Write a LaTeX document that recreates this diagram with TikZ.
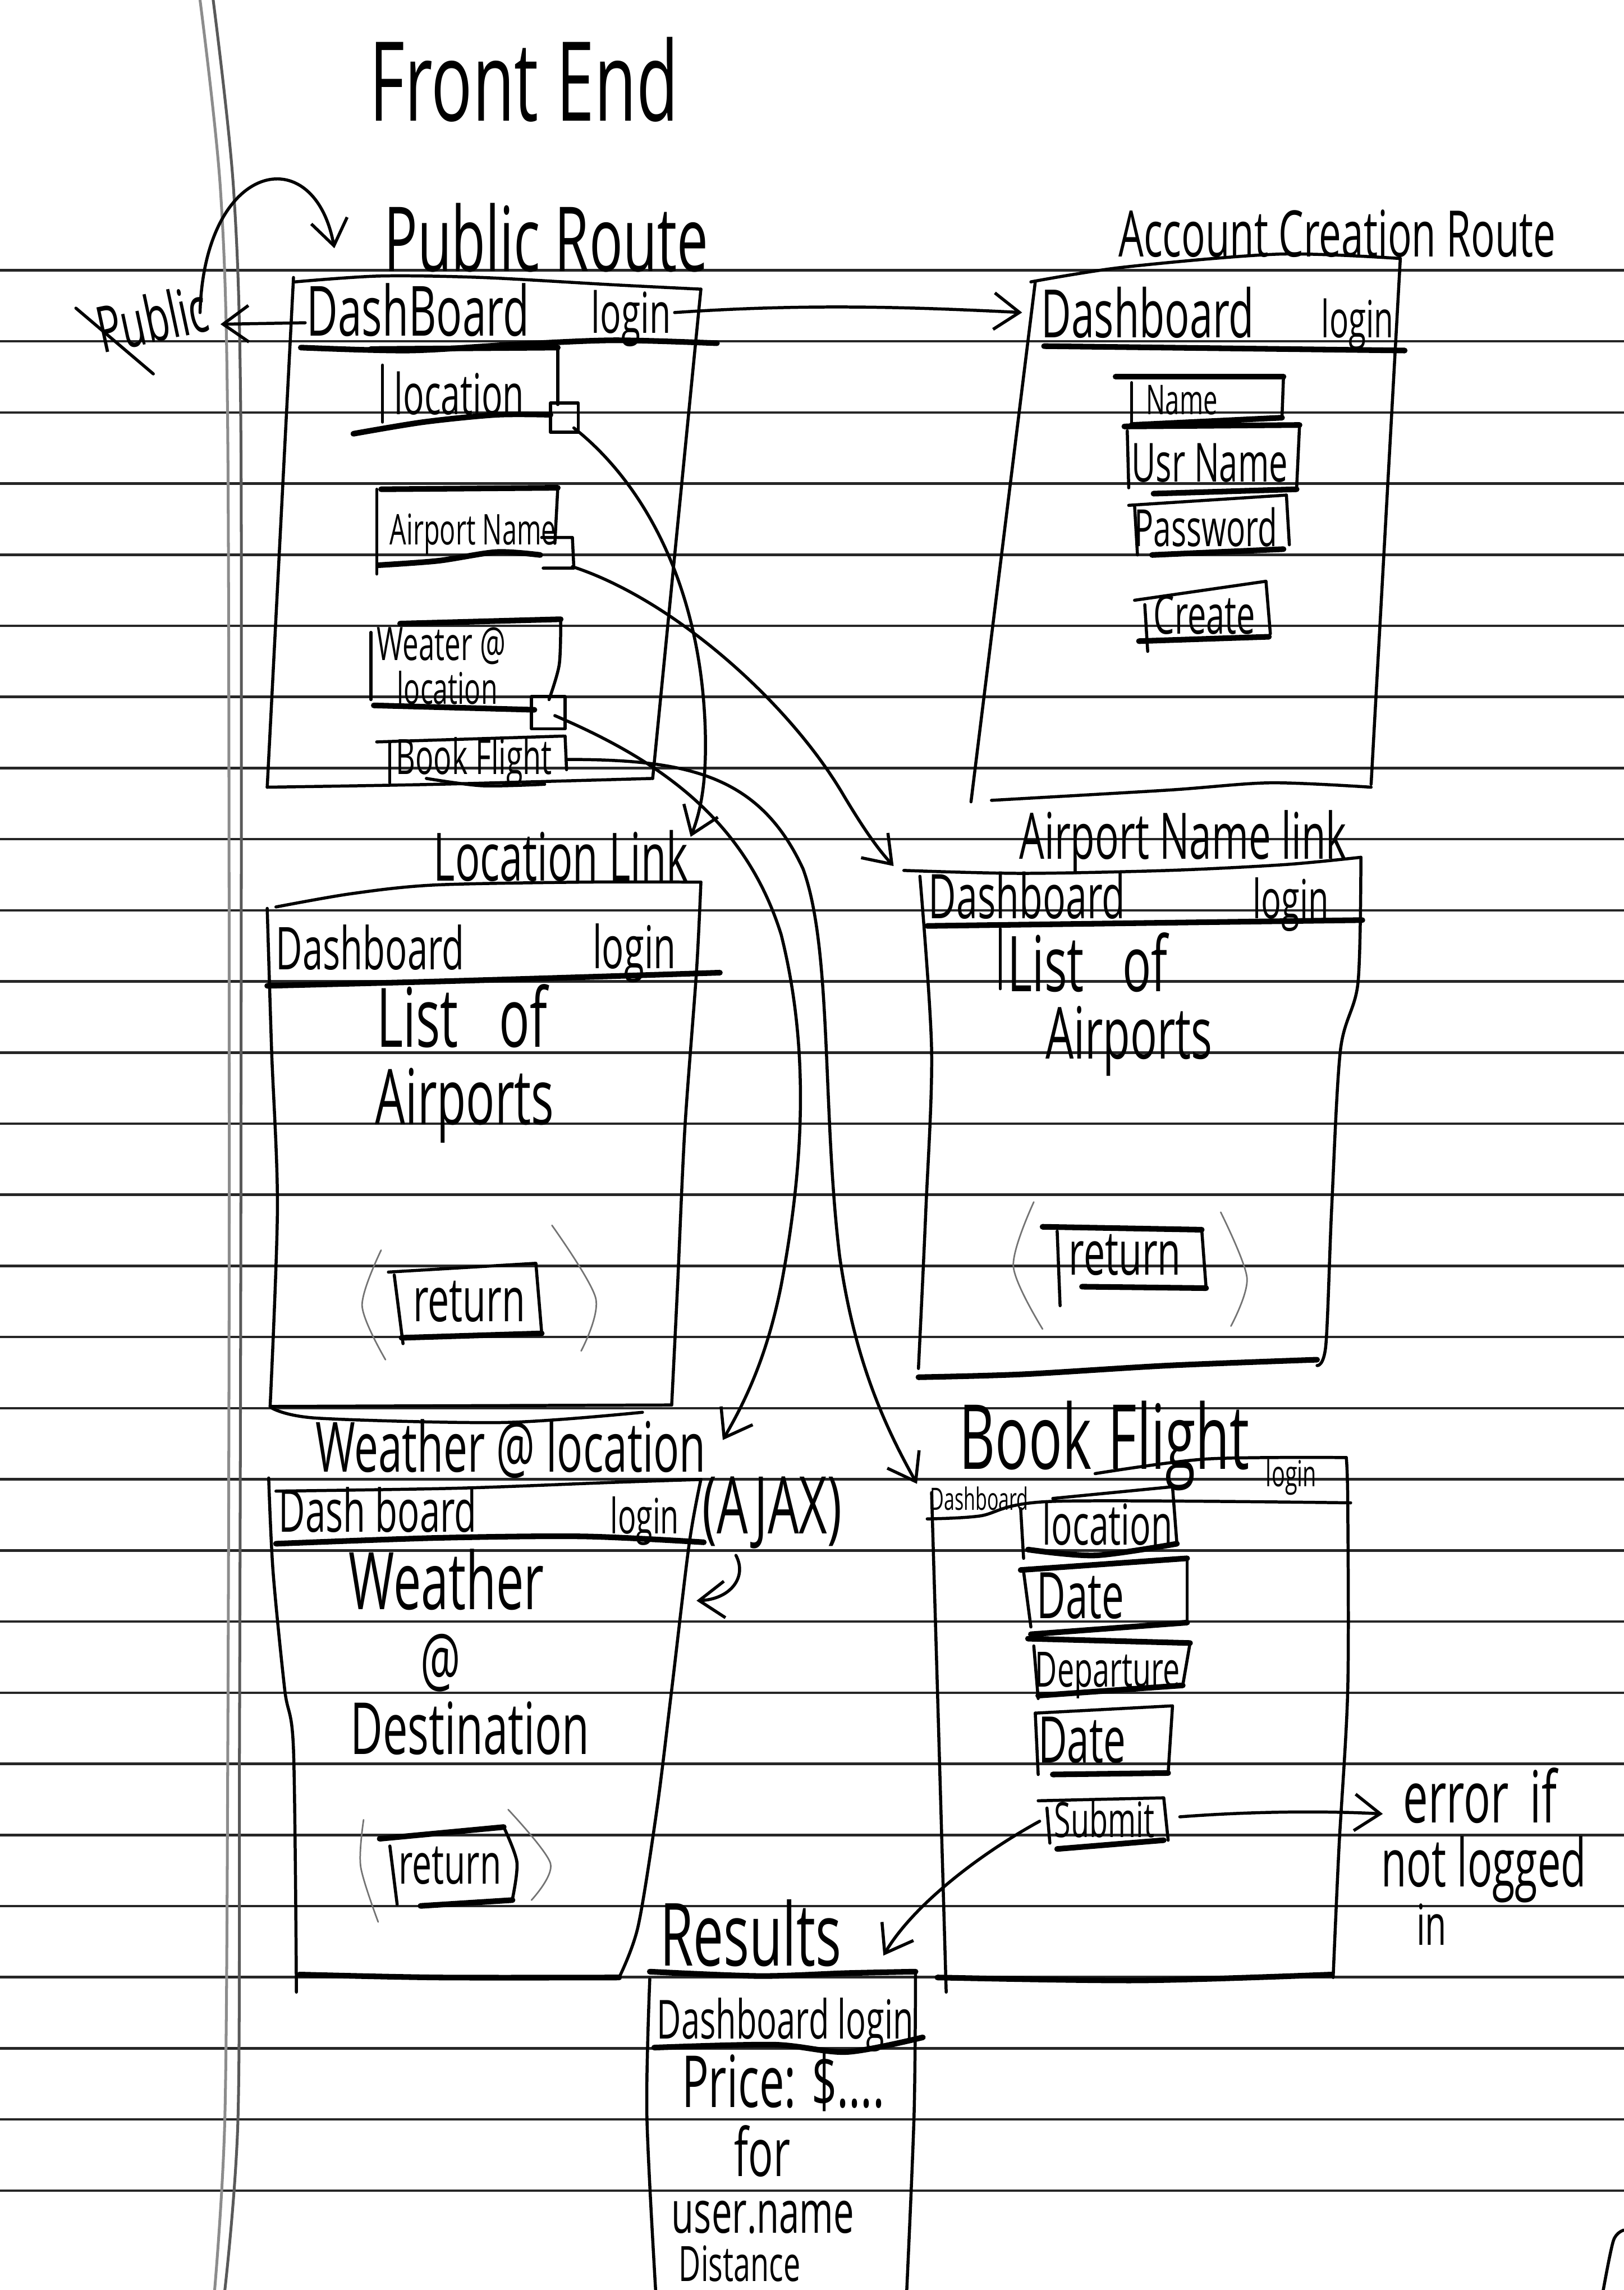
\documentclass[tikz,border=0pt]{standalone}
\usepackage{fontspec}
\usetikzlibrary{arrows.meta}
\newfontfamily\hand{Open Sans}[FakeStretch=0.62]
\newcommand\handsz[1]{\hand\fontsize{#1}{#1}\selectfont}
\begin{document}
\begin{tikzpicture}[x=0.02cm,y=-0.02cm,
  ruled/.style={line width=1pt,black!85},
  marginline/.style={line width=1.1pt,black!45},
  penline/.style={line width=1.2pt,black,line cap=round,line join=round},
  heavyline/.style={line width=2.2pt,black,line cap=round,line join=round},
  faintline/.style={line width=0.6pt,black!55,line cap=round},
  connline/.style={penline,-{Straight Barb[length=3.5mm,width=5mm]}},
  hw/.style={inner sep=0pt,outer sep=0pt,anchor=base west,text=black},
]
% paper
\fill[white] (0,0) rectangle (1112,1568);
\useasboundingbox (0,0) rectangle (1112,1568);
\foreach \k in {0,...,27}{
  \draw[ruled] (0,{185+\k*48.7}) -- (1112,{185+\k*48.7});
}
\draw[marginline] plot[smooth] coordinates {(137,0) (151,130) (156,300) (157,800) (156,1200) (154,1450) (147,1568)};
\draw[marginline,black!65] plot[smooth] coordinates {(146,0) (160,130) (165,300) (165,800) (164,1200) (163,1450) (154,1568)};
\draw[penline] plot[smooth] coordinates {(1112,1527) (1105,1534) (1098,1568)};

% ---------- titles ----------
\node[hw,font=\handsz{43}] (frontend) at (253,83) {Front End};

% ---------- Public Route ----------
\node[hw,font=\handsz{35}] (prtitle) at (263,186) {Public Route};
\draw[penline] plot[smooth] coordinates {(202,193) (260,189) (330,190) (420,195) (480,198)};
\draw[penline] (480,198) -- (447,533);
\draw[penline] (201,190) -- (183,539);
\draw[penline] plot[smooth] coordinates {(183,539) (300,537) (447,533)};
\draw[heavyline] plot[smooth] coordinates {(206,238) (280,240) (350,236) (420,233) (491,235)};
\node[hw,font=\handsz{27}] (prdash) at (210,230) {DashBoard};
\node[hw,font=\handsz{22}] (prlogin) at (405,228) {login};
% location button
\draw[heavyline] (254,239) -- (382,238);
\draw[penline] (382,238) -- (382,277);
\draw[penline] (262,250) -- (262,289);
\draw[heavyline] plot[smooth] coordinates {(242,297) (290,289) (340,284) (377,284)};
\draw[penline] (377,276) rectangle (396,296);
\node[hw,font=\handsz{22}] (prloc) at (270,284) {location};
% airport name button
\draw[heavyline] (261,335) -- (382,334);
\draw[penline] (258,335) -- (258,393);
\draw[penline] (382,334) -- (380,372);
\draw[heavyline] plot[smooth] coordinates {(259,387) (300,384) (340,378) (370,380)};
\draw[penline] (371,368) -- (392,368) -- (393,389) -- (372,389);
\node[hw,font=\handsz{16.5}] (prair) at (267,373) {Airport Name};
% weather button
\draw[heavyline] (274,427) -- (384,424);
\draw[penline] (254,433) -- (254,479);
\draw[penline] plot[smooth] coordinates {(384,424) (383,455) (376,479)};
\draw[heavyline] (256,483) -- (366,486);
\draw[penline] (364,477) rectangle (387,499);
\node[hw,font=\handsz{18}] (prwea1) at (258,452) {Weater @};
\node[hw,font=\handsz{17}] (prwea2) at (272,482) {location};
% book flight button
\draw[penline] (258,508) -- (386,504);
\draw[penline] (267,509) -- (267,536);
\draw[penline] (387,504) -- (388,527);
\draw[penline] plot[smooth] coordinates {(292,533) (330,538) (373,537)};
\node[hw,font=\handsz{19}] (prbook) at (271,530) {Book Flight};

% Public label
\node[hw,anchor=center,font=\handsz{25},rotate=12] (public) at (104,218) {Public};
\draw[penline] (52,211) -- (105,256);

% ---------- Account Creation Route ----------
\node[hw,font=\handsz{25}] (actitle) at (766,176) {Account Creation Route};
\draw[penline] plot[smooth] coordinates {(706,193) (769,183) (876,174) (959,177)};
\draw[penline] (959,177) -- (939,537);
\draw[penline] (709,193) -- (665,549);
\draw[penline] plot[smooth] coordinates {(679,548) (800,541) (870,536) (939,539)};
\draw[heavyline] (715,237) -- (962,240);
\node[hw,font=\handsz{26}] (acdash) at (713,231) {Dashboard};
\node[hw,font=\handsz{20}] (aclogin) at (905,231) {login};
% name
\draw[heavyline] (764,258) -- (879,258);
\draw[penline] (879,258) -- (878,285);
\draw[heavyline] (775,291) -- (878,286);
\draw[penline] (775,262) -- (775,291);
\node[hw,font=\handsz{16}] (acname) at (785,284) {Name};
% usr name
\draw[heavyline] (770,292) -- (890,291);
\draw[penline] (890,291) -- (888,334);
\draw[heavyline] (790,338) -- (888,335);
\draw[penline] (772,295) -- (773,334);
\node[hw,font=\handsz{21}] (acusr) at (775,330) {Usr Name};
% password
\draw[penline] (773,346) -- (881,339);
\draw[penline] (881,339) -- (883,373);
\draw[heavyline] (789,380) -- (879,376);
\draw[penline] (777,346) -- (779,380);
\node[hw,font=\handsz{20}] (acpass) at (777,374) {Password};
% create
\draw[penline] (777,411) -- (867,398) -- (870,434);
\draw[heavyline] (780,439) -- (869,436);
\draw[penline] (784,414) -- (786,446);
\node[hw,font=\handsz{21}] (accreate) at (790,434) {Create};

% ---------- Location Link ----------
\node[hw,font=\handsz{26}] (lltitle) at (297,603) {Location Link};
\draw[penline] plot[smooth] coordinates {(189,621) (240,612) (297,606) (400,604) (480,604)};
\draw[penline] plot[smooth] coordinates {(480,604) (477,665) (469,773) (464,881) (460,962)};
\draw[penline] plot[smooth] coordinates {(183,622) (186,719) (190,827) (185,963)};
\draw[penline] (185,963) -- (460,962);
\draw[penline] plot[smooth] coordinates {(186,964) (217,971) (345,974) (440,967)};
\draw[heavyline] plot[smooth] coordinates {(183,675) (300,672) (400,669) (493,666)};
\node[hw,font=\handsz{23}] (lldash) at (189,664) {Dashboard};
\node[hw,font=\handsz{23}] (lllogin) at (406,663) {login};
\node[hw,font=\handsz{32}] (lllist) at (258,717) {List\hspace{0.5em}of};
\node[hw,font=\handsz{30}] (llairp) at (257,770) {Airports};
\draw[penline] (266,871) -- (367,865) -- (371,913);
\draw[heavyline] (275,916) -- (371,913);
\draw[penline] (270,873) -- (276,920);
\node[hw,font=\handsz{24}] (llret) at (283,905) {return};
\draw[faintline] plot[smooth] coordinates {(261,856) (248,894) (264,931)};
\draw[faintline] plot[smooth] coordinates {(378,839) (408,889) (398,925)};

% ---------- Airport Name link ----------
\node[hw,font=\handsz{25}] (antitle) at (698,588) {Airport Name link};
\draw[penline] plot[smooth] coordinates {(619,596) (700,598) (800,596) (880,592) (932,587)};
\draw[penline] plot[smooth] coordinates {(932,587) (930,673) (918,719) (912,827) (908,921) (902,935)};
\draw[penline] plot[smooth] coordinates {(630,600) (638,719) (634,830) (629,937)};
\draw[heavyline] plot[smooth] coordinates {(629,943) (700,941) (800,935) (902,931)};
\draw[heavyline] (635,634) -- (933,630);
\draw[penline] (685,636) -- (685,677);
\node[hw,font=\handsz{24}] (andash) at (636,629) {Dashboard};
\node[hw,font=\handsz{21}] (anlogin) at (858,629) {login};
\node[hw,font=\handsz{30}] (anlist) at (690,679) {List\hspace{0.5em}of};
\node[hw,font=\handsz{28}] (anairp) at (716,725) {Airports};
\draw[heavyline] (714,840) -- (823,842);
\draw[penline] (823,842) -- (826,882);
\draw[heavyline] (741,881) -- (826,882);
\draw[penline] (724,843) -- (726,894);
\node[hw,font=\handsz{24}] (anret) at (732,873) {return};
\draw[faintline] plot[smooth] coordinates {(708,823) (694,867) (714,910)};
\draw[faintline] plot[smooth] coordinates {(836,830) (854,875) (843,908)};

% ---------- Weather @ location ----------
\node[hw,font=\handsz{27}] (wltitle) at (216,1008) {Weather @ location};
\draw[penline] plot[smooth] coordinates {(189,1021) (313,1019) (420,1015) (480,1013)};
\draw[penline] plot[smooth] coordinates {(480,1013) (472,1057) (460,1157) (450,1238) (437,1319) (424,1354)};
\draw[penline] plot[smooth] coordinates {(184,1012) (187,1076) (195,1157) (201,1198) (203,1364)};
\draw[heavyline] plot[smooth] coordinates {(205,1352) (300,1354) (424,1354)};
\draw[heavyline] plot[smooth] coordinates {(189,1057) (300,1053) (400,1052) (482,1056)};
\node[hw,font=\handsz{23}] (wldash) at (191,1049) {Dash board};
\node[hw,font=\handsz{19}] (wllogin) at (418,1050) {login};
\node[hw,font=\handsz{31}] (wlajax) at (481,1050) {(AJAX)};
\node[hw,font=\handsz{31}] (wlw) at (239,1102) {Weather};
\node[hw,font=\handsz{28}] (wlat) at (288,1154) {@};
\node[hw,font=\handsz{28}] (wldest) at (240,1201) {Destination};
\draw[heavyline] (260,1259) -- (345,1251);
\draw[penline] plot[smooth] coordinates {(345,1251) (354,1275) (351,1300)};
\draw[heavyline] (288,1305) -- (351,1301);
\draw[penline] (267,1264) -- (272,1304);
\node[hw,font=\handsz{22}] (wlret) at (273,1290) {return};
\draw[faintline] plot[smooth] coordinates {(249,1246) (247,1278) (259,1316)};
\draw[faintline] plot[smooth] coordinates {(348,1239) (377,1276) (364,1301)};

% ---------- Book Flight ----------
\node[hw,font=\handsz{35}] (bftitle1) at (657,1006) {Book};
\node[hw,font=\handsz{35}] (bftitle2) at (759,1006) {Flight};
\draw[penline] plot[smooth] coordinates {(750,1009) (826,999) (922,998)};
\draw[penline] plot[smooth] coordinates {(922,998) (923,1028) (923,1157) (917,1265) (913,1354)};
\draw[penline] plot[smooth] coordinates {(638,1022) (642,1157) (648,1364)};
\draw[heavyline] plot[smooth] coordinates {(642,1354) (780,1356) (912,1352)};
\draw[penline] plot[smooth] coordinates {(635,1040) (671,1038) (721,1028) (925,1029)};
\node[hw,font=\handsz{12}] (bfdash) at (637,1034) {Dashboard};
\node[hw,font=\handsz{14}] (bflogin) at (867,1018) {login};
\draw[penline] (721,1026) -- (803,1018) -- (806,1057);
\draw[heavyline] plot[smooth] coordinates {(704,1061) (750,1065) (806,1057)};
\draw[penline] (699,1033) -- (701,1067);
\node[hw,font=\handsz{22}] (bfloc) at (714,1058) {location};
\draw[heavyline] (699,1075) -- (813,1067);
\draw[penline] (813,1067) -- (813,1111);
\draw[heavyline] (706,1119) -- (813,1111);
\draw[penline] (701,1076) -- (706,1114);
\node[hw,font=\handsz{25}] (bfdate1) at (710,1108) {Date};
\draw[heavyline] (704,1122) -- (815,1125);
\draw[penline] (815,1125) -- (810,1154);
\draw[heavyline] (711,1161) -- (810,1154);
\draw[penline] (708,1127) -- (711,1163);
\node[hw,font=\handsz{19}] (bfdep) at (709,1155) {Departure};
\draw[penline] (709,1173) -- (803,1168) -- (800,1214);
\draw[heavyline] (721,1215) -- (800,1214);
\draw[penline] (709,1173) -- (711,1215);
\node[hw,font=\handsz{25}] (bfdate2) at (711,1207) {Date};
\draw[penline] (711,1233) -- (797,1231) -- (800,1260);
\draw[heavyline] (724,1266) -- (797,1260);
\draw[penline] (717,1238) -- (719,1262);
\node[hw,font=\handsz{19}] (bfsub) at (722,1258) {Submit};

% error text
\node[hw,font=\handsz{28}] (err1) at (961,1248) {error\hspace{0.3em}if};
\node[hw,font=\handsz{26}] (err2) at (946,1292) {not logged};
\node[hw,font=\handsz{22}] (err3) at (970,1332) {in};

% ---------- Results ----------
\node[hw,font=\handsz{34}] (restitle) at (452,1346) {Results};
\draw[heavyline] plot[smooth] coordinates {(445,1350) (520,1353) (580,1351) (627,1350)};
\draw[penline] plot[smooth] coordinates {(445,1355) (443,1448) (449,1568)};
\draw[penline] plot[smooth] coordinates {(627,1352) (626,1448) (621,1568)};
\draw[heavyline] plot[smooth] coordinates {(448,1402) (530,1400) (580,1405) (632,1395)};
\node[hw,font=\handsz{21}] (resdash) at (450,1396) {Dashboard login};
\node[hw,font=\handsz{28}] (resprice) at (467,1443) {Price: \$....};
\node[hw,font=\handsz{26}] (resfor) at (503,1490) {for};
\node[hw,font=\handsz{23}] (resuser) at (460,1529) {user.name};
\node[hw,font=\handsz{19}] (resdist) at (465,1562) {Distance};

% ---------- connectors ----------
\coordinate (prDashL) at (209,221);
\coordinate (pubR) at (151,222);
\coordinate (loopS) at (137,214);
\coordinate (loopE) at (229,170);
\coordinate (prLoginR) at (462,214);
\coordinate (acIn) at (700,214);
\coordinate (locSq) at (393,293);
\coordinate (llIn) at (473,573);
\coordinate (anSq) at (392,388);
\coordinate (anlIn) at (612,593);
\coordinate (wSq) at (380,490);
\coordinate (wlIn) at (495,986);
\coordinate (bfR) at (388,520);
\coordinate (bfIn) at (628,1016);
\coordinate (ajS) at (504,1065);
\coordinate (ajE) at (477,1096);
\coordinate (subR) at (808,1244);
\coordinate (errIn) at (947,1242);
\coordinate (subL) at (712,1247);
\coordinate (resIn) at (605,1339);

\draw[connline] (prDashL) -- (pubR);
\draw[connline] (loopS) .. controls (140,110) and (215,95) .. (loopE);
\draw[connline] (prLoginR) .. controls (550,208) and (620,210) .. (acIn);
\draw[connline] (locSq) .. controls (440,330) and (480,400) .. (483,500) .. controls (484,535) and (480,555) .. (llIn);
\draw[connline] (anSq) .. controls (460,410) and (540,480) .. (578,545) .. controls (590,565) and (600,580) .. (anlIn);
\draw[connline] (wSq) .. controls (450,520) and (510,560) .. (535,640) .. controls (555,720) and (550,800) .. (535,880) .. controls (525,930) and (510,960) .. (wlIn);
\draw[connline] (bfR) .. controls (470,520) and (520,530) .. (550,595) .. controls (570,650) and (563,760) .. (575,860) .. controls (585,930) and (605,975) .. (bfIn);
\draw[connline] (ajS) .. controls (512,1080) and (500,1095) .. (ajE);
\draw[connline] (subR) .. controls (860,1240) and (910,1240) .. (errIn);
\draw[connline] (subL) .. controls (670,1270) and (625,1305) .. (resIn);
\end{tikzpicture}
\end{document}
